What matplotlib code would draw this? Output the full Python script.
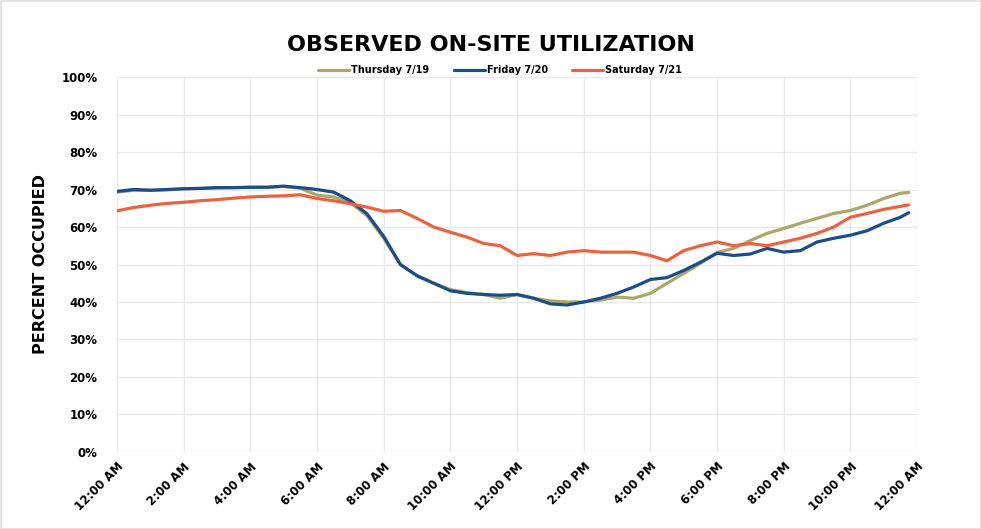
import numpy as np
import matplotlib
matplotlib.use("Agg")
import matplotlib.pyplot as plt
from matplotlib.ticker import FuncFormatter

# half-hour readings, 12:00 AM .. 11:30 PM, plus 11:45 PM
hours = [h / 2 for h in range(48)] + [23.75]

thursday = [69.3, 69.8, 69.8, 69.9, 70.2, 70.3, 70.4, 70.5, 70.6, 70.6, 70.8, 70.3,
            68.5, 68.0, 66.5, 63.0, 57.0, 50.0, 47.0, 45.0, 43.3, 42.5, 42.0, 41.0,
            42.0, 41.0, 40.3, 40.0, 40.0, 40.5, 41.3, 41.0, 42.3, 45.0, 47.6, 50.3,
            53.2, 54.3, 56.4, 58.3, 59.6, 61.0, 62.3, 63.6, 64.4, 65.8, 67.6, 69.0,
            69.2]
friday = [69.5, 70.0, 69.8, 70.0, 70.2, 70.3, 70.5, 70.5, 70.6, 70.6, 70.9, 70.5,
          70.0, 69.3, 67.0, 63.5, 57.5, 50.0, 47.0, 45.0, 43.0, 42.3, 42.0, 41.8,
          42.0, 41.0, 39.5, 39.2, 40.0, 41.0, 42.3, 44.0, 46.0, 46.5, 48.4, 50.6,
          53.0, 52.4, 52.8, 54.3, 53.3, 53.7, 56.0, 57.0, 57.8, 59.0, 61.0, 62.6,
          63.8]
saturday = [64.3, 65.2, 65.8, 66.3, 66.6, 67.0, 67.3, 67.7, 68.0, 68.2, 68.3, 68.6,
            67.6, 67.0, 66.2, 65.3, 64.2, 64.4, 62.3, 60.0, 58.6, 57.3, 55.6, 55.0,
            52.4, 52.9, 52.4, 53.3, 53.7, 53.3, 53.3, 53.3, 52.4, 51.0, 53.7, 55.0,
            56.0, 55.0, 55.6, 55.0, 56.0, 57.0, 58.3, 60.0, 62.6, 63.6, 64.7, 65.5,
            65.9]

series_names = ["Thursday 7/19", "Friday 7/20", "Saturday 7/21"]
colors = ["#aaa76b", "#1c4c8a", "#e8633f"]

xtick_hours = list(range(0, 25, 2))
xtick_labels = ["12:00 AM", "2:00 AM", "4:00 AM", "6:00 AM", "8:00 AM", "10:00 AM",
                "12:00 PM", "2:00 PM", "4:00 PM", "6:00 PM", "8:00 PM", "10:00 PM",
                "12:00 AM"]

fig = plt.figure(figsize=(9.81, 5.29), dpi=100)
fig.patch.set_edgecolor("#e4e4e4")
fig.patch.set_linewidth(2)
ax = fig.add_axes([0.1193, 0.1456, 0.8155, 0.7088])

for name, vals, c in zip(series_names, [thursday, friday, saturday], colors):
    ax.plot(hours, vals, color=c, lw=2.3, label=name, solid_capstyle="round",
            solid_joinstyle="round")

ax.set_xlim(0, 24)
ax.set_ylim(0, 100)
ax.set_xticks(xtick_hours)
ax.set_xticklabels(xtick_labels, rotation=45, ha="right", va="top",
                   rotation_mode="anchor", fontsize=8.5, fontweight="bold")
ax.set_yticks(range(0, 101, 10))
ax.yaxis.set_major_formatter(FuncFormatter(lambda v, p: f"{int(v)}%"))
for lbl in ax.get_yticklabels():
    lbl.set_fontweight("bold")
ax.tick_params(axis="y", length=0, pad=14, labelsize=8.5)
ax.tick_params(axis="x", length=0, pad=6)
ax.grid(True, color="#e9e9e9", lw=1)
ax.set_axisbelow(True)
for s in ax.spines.values():
    s.set_visible(False)

ax.set_ylabel("PERCENT OCCUPIED", fontsize=11.5, fontweight="bold", labelpad=10)

fig.text(0.5, 0.915, "OBSERVED ON-SITE UTILIZATION", ha="center", va="center",
         fontsize=16, fontweight="bold")
fig.legend(loc="center", bbox_to_anchor=(0.51, 0.867), ncol=3, frameon=False,
           handlelength=3.2, columnspacing=2.5, handletextpad=0.2,
           prop={"weight": "bold", "size": 7})

fig.savefig("out.png", dpi=100)
